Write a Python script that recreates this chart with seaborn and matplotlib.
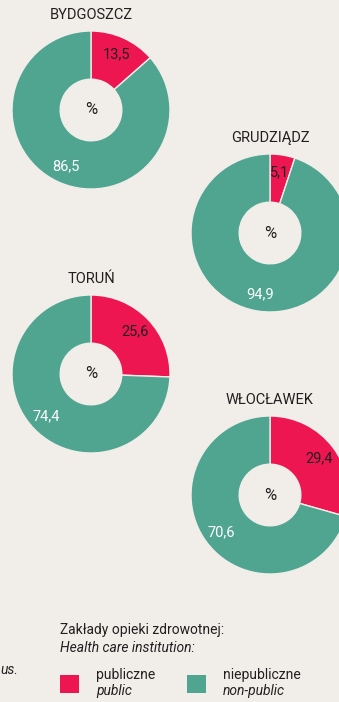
import matplotlib
matplotlib.use("Agg")
import matplotlib.pyplot as plt
import seaborn as sns
import numpy as np
from matplotlib.patches import Rectangle

# Share of health care institutions by ownership (%), per city
cities = ["BYDGOSZCZ", "GRUDZIĄDZ", "TORUŃ", "WŁOCŁAWEK"]
public = [13.5, 5.1, 25.6, 29.4]
non_public = [86.5, 94.9, 74.4, 70.6]
legend_pl = ["publiczne", "niepubliczne"]
legend_en = ["public", "non-public"]

W, H = 339, 702
BG = "#f1eeea"
sns.set_theme(style="white", rc={"figure.facecolor": BG, "axes.facecolor": "none"})
plt.rcParams["font.family"] = ["Roboto", "DejaVu Sans"]
colors = sns.color_palette(["#ee1651", "#4fa590"])
TXT = "#231f20"

fig = plt.figure(figsize=(W / 100, H / 100), dpi=100)

# donut centres / radius in pixels
layout = [(91, 110), (270, 233), (91, 374), (270, 495)]
R = 79


def fmt(v):
    return f"{v:.1f}".replace(".", ",")


for name, pub, npub, (cx, cy) in zip(cities, public, non_public, layout):
    ax = fig.add_axes([(cx - R) / W, 1 - (cy + R) / H, 2 * R / W, 2 * R / H])
    vals = [pub, npub]
    wedges, _ = ax.pie(vals, colors=colors, startangle=90, counterclock=False,
                       radius=1.0,
                       wedgeprops=dict(width=0.61, edgecolor=BG, linewidth=1.0))
    ax.set_xlim(-1, 1)
    ax.set_ylim(-1, 1)
    ax.set_aspect("equal")
    ax.axis("off")
    total = sum(vals)
    start = 0.0
    for v, tc in zip(vals, [TXT, "white"]):
        mid = np.deg2rad(90 - 360 * (start + v / 2) / total)
        rr = 0.78
        ax.text(rr * np.cos(mid), rr * np.sin(mid), fmt(v), ha="center",
                va="center", fontsize=10.5, color=tc)
        start += v
    ax.text(0, 0, "%", ha="center", va="center", fontsize=12, color=TXT)
    fig.text(cx / W, 1 - (cy - R - 16) / H, name, ha="center", va="center",
             fontsize=10.5, color=TXT)

# legend
fig.text(60 / W, 1 - 630 / H, "Zakłady opieki zdrowotnej:", ha="left",
         va="center", fontsize=10, color=TXT)
fig.text(60 / W, 1 - 648 / H, "Health care institution:", ha="left",
         va="center", fontsize=10, color=TXT, style="italic")
fig.text(0, 1 - 670 / H, "us.", ha="left", va="center", fontsize=10,
         color=TXT, style="italic")

for (x0, col, pl, en) in zip([60, 187], colors, legend_pl, legend_en):
    fig.patches.append(Rectangle((x0 / W, 1 - 693 / H), 18.5 / W, 18 / H,
                                 transform=fig.transFigure, facecolor=col,
                                 edgecolor="none"))
    fig.text((x0 + 36) / W, 1 - 675 / H, pl, ha="left", va="center",
             fontsize=10, color=TXT)
    fig.text((x0 + 36) / W, 1 - 691 / H, en, ha="left", va="center",
             fontsize=10, color=TXT, style="italic")

fig.savefig("out.png", dpi=100, facecolor=BG)
